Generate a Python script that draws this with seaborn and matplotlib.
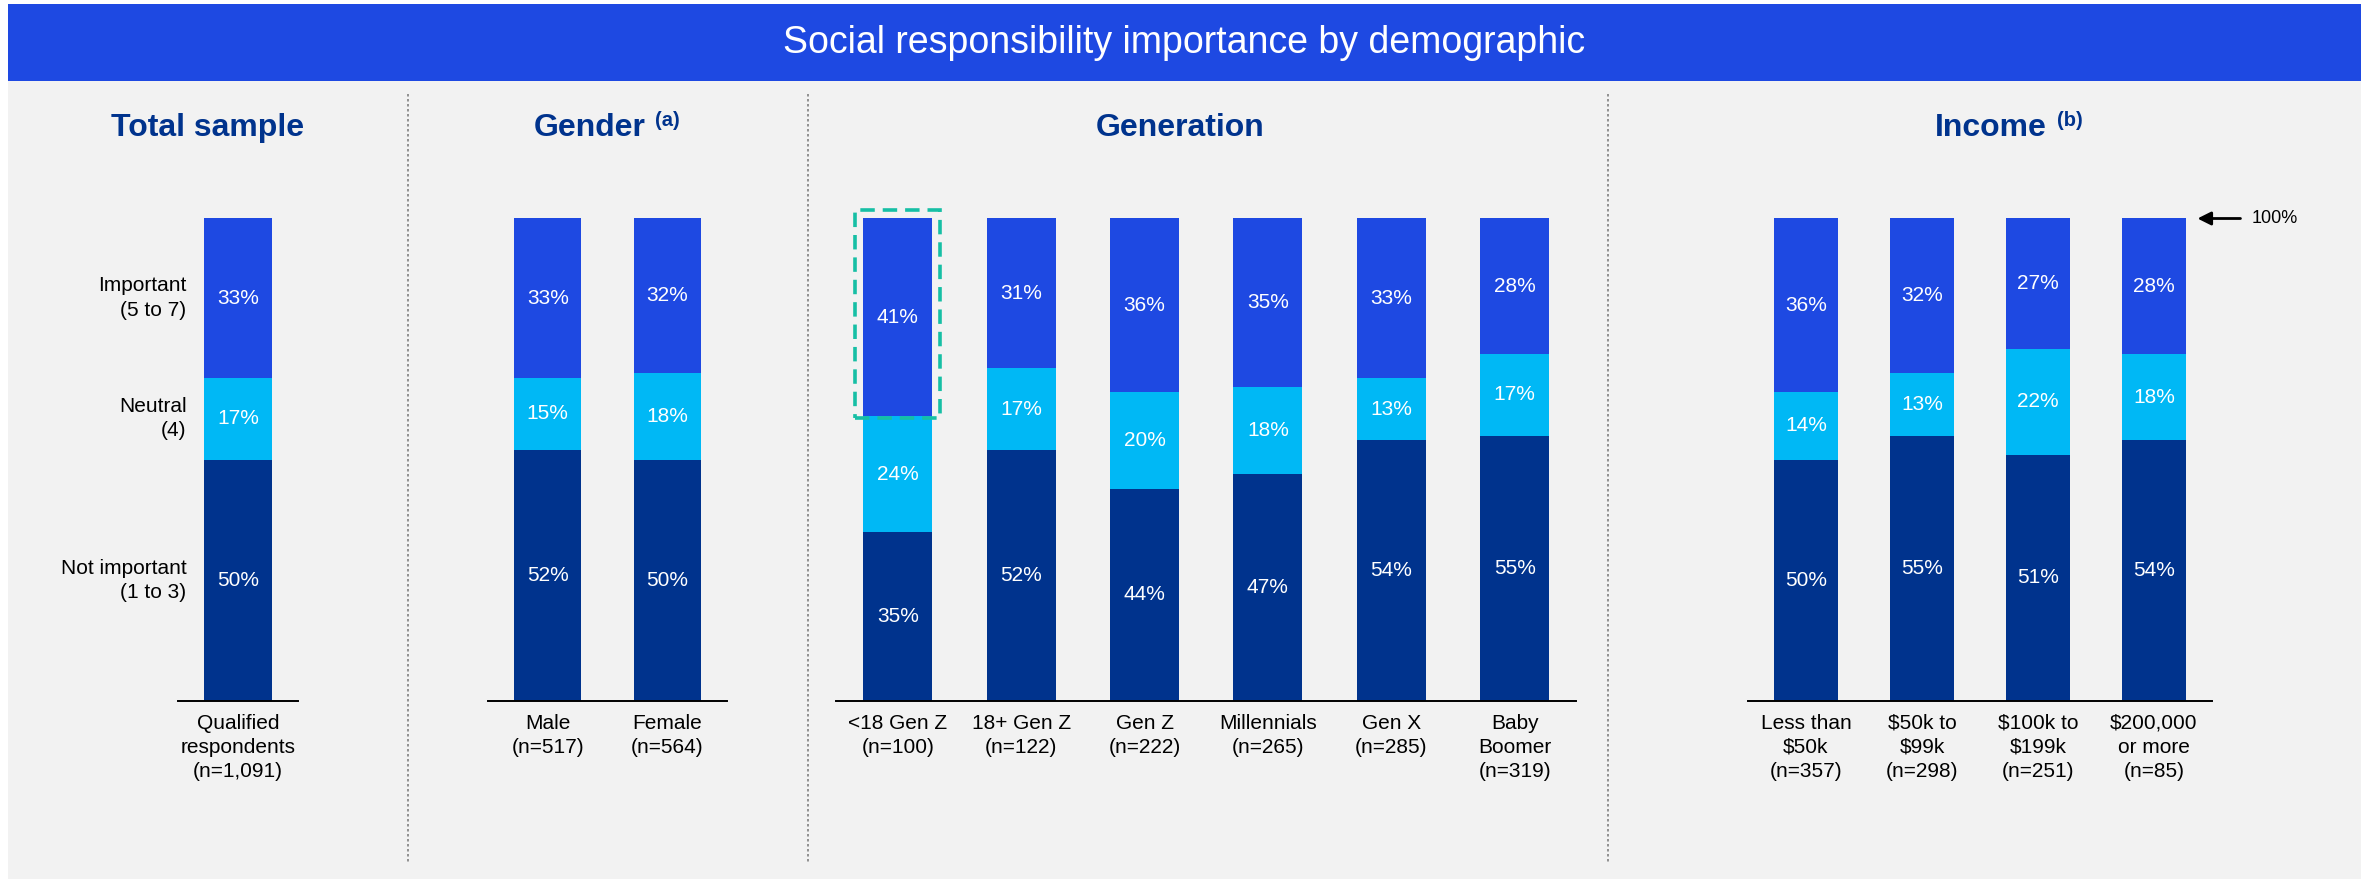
import numpy as np
import pandas as pd
import matplotlib
matplotlib.use("Agg")
import matplotlib.pyplot as plt
from matplotlib.patches import Rectangle
import seaborn as sns

# DATA
total_labels = ["Qualified\nrespondents\n(n=1,091)"]
total_not = [50]
total_neutral = [17]
total_important = [33]

gender_labels = ["Male\n(n=517)", "Female\n(n=564)"]
gender_not = [52, 50]
gender_neutral = [15, 18]
gender_important = [33, 32]

gen_labels = ["<18 Gen Z\n(n=100)", "18+ Gen Z\n(n=122)", "Gen Z\n(n=222)",
              "Millennials\n(n=265)", "Gen X\n(n=285)", "Baby\nBoomer\n(n=319)"]
gen_not = [35, 52, 44, 47, 54, 55]
gen_neutral = [24, 17, 20, 18, 13, 17]
gen_important = [41, 31, 36, 35, 33, 28]

income_labels = ["Less than\n$50k\n(n=357)", "$50k to\n$99k\n(n=298)",
                 "$100k to\n$199k\n(n=251)", "$200,000\nor more\n(n=85)"]
income_not = [50, 55, 51, 54]
income_neutral = [14, 13, 22, 18]
income_important = [36, 32, 27, 28]

segment_names = ["Not important\n(1 to 3)", "Neutral\n(4)", "Important\n(5 to 7)"]

# COLOURS
c_important = "#1E49E2"
c_neutral = "#00B8F5"
c_not = "#00338D"
navy = "#00338D"
teal = "#16BFA5"

sns.set_theme(style="white")
plt.rcParams['font.family'] = ['Liberation Sans', 'DejaVu Sans']
plt.rcParams['text.parse_math'] = False

W, H = 2369, 880
fig = plt.figure(figsize=(W / 100, H / 100), dpi=100)
fig.patch.set_facecolor("white")

# background / header in pixel space
bg = fig.add_axes([0, 0, 1, 1], zorder=0)
bg.set_xlim(0, W)
bg.set_ylim(H, 0)
bg.axis("off")
bg.add_patch(Rectangle((8, 81), 2353, 798, color="#F2F2F2", lw=0))
bg.add_patch(Rectangle((8, 4), 2353, 77, color=c_important, lw=0))
bg.text(1184, 43, "Social responsibility importance by demographic",
        color="white", fontsize=27, ha="center", va="center")
for xd in [408, 808, 1608]:
    bg.plot([xd, xd], [94, 862], color="#808080", lw=1.2, ls=(0, (1.5, 1.5)))

bg.text(208, 136, "Total sample", color=navy, fontsize=23, fontweight="bold",
        ha="center", va="baseline")
bg.text(590, 136, "Gender", color=navy, fontsize=23, fontweight="bold",
        ha="center", va="baseline")
bg.text(655, 111, "(a)", color=navy, fontsize=14.5, fontweight="bold",
        ha="left", va="top")
bg.text(1180, 136, "Generation", color=navy, fontsize=23, fontweight="bold",
        ha="center", va="baseline")
bg.text(1991, 136, "Income", color=navy, fontsize=23, fontweight="bold",
        ha="center", va="baseline")
bg.text(2057, 111, "(b)", color=navy, fontsize=14.5, fontweight="bold",
        ha="left", va="top")

BASE = 701
TOP = 218.5
BAR_W = 0.56


def panel(left, step, labels, low, mid, high):
    n = len(labels)
    ax = fig.add_axes([left / W, 1 - BASE / H, n * step / W, (BASE - TOP) / H], zorder=2)
    ax.patch.set_alpha(0)
    df = pd.DataFrame({"group": labels, "low": low, "mid": mid, "high": high})
    df["lowmid"] = df["low"] + df["mid"]
    df["all"] = df["lowmid"] + df["high"]
    for col, c in [("all", c_important), ("lowmid", c_neutral), ("low", c_not)]:
        sns.barplot(data=df, x="group", y=col, color=c, width=BAR_W, saturation=1,
                    errorbar=None, linewidth=0, ax=ax)
    for i, row in df.iterrows():
        for bottom, h in [(0, row["low"]), (row["low"], row["mid"]), (row["lowmid"], row["high"])]:
            ax.text(i, bottom + h / 2, f"{h}%", color="white", fontsize=15,
                    ha="center", va="center")
    ax.set_xlim(-0.5, n - 0.5)
    ax.set_ylim(0, 100)
    ax.set_xlabel("")
    ax.set_ylabel("")
    ax.set_yticks([])
    for s in ["top", "left", "right"]:
        ax.spines[s].set_visible(False)
    ax.spines["bottom"].set_color("black")
    ax.spines["bottom"].set_linewidth(1.4)
    ax.tick_params(axis="x", length=0, pad=9, labelsize=15, labelcolor="black")
    for lab in ax.get_xticklabels():
        lab.set_linespacing(1.35)
    return ax, df


ax_t, df_t = panel(178, 120, total_labels, total_not, total_neutral, total_important)
ax_g, df_g = panel(488, 119.5, gender_labels, gender_not, gender_neutral, gender_important)
ax_n, df_n = panel(836, 123.4, gen_labels, gen_not, gen_neutral, gen_important)
ax_i, df_i = panel(1748, 116, income_labels, income_not, income_neutral, income_important)

# segment names left of the total bar
mids = [total_not[0] / 2,
        total_not[0] + total_neutral[0] / 2,
        total_not[0] + total_neutral[0] + total_important[0] / 2]
for name, ym in zip(segment_names, mids):
    ax_t.text(-BAR_W / 2 - 18 / 120, ym, name, fontsize=15, color="black",
              ha="right", va="center", linespacing=1.35)

# dashed highlight around <18 Gen Z important segment
pad_x = 8 / 123.4
box = Rectangle((-BAR_W / 2 - pad_x, df_n["lowmid"][0] - 0.4),
                BAR_W + 2 * pad_x, df_n["high"][0] + 0.4 + 1.7,
                fill=False, edgecolor=teal, lw=2.6, ls=(0, (4, 2.2)),
                clip_on=False, zorder=5)
ax_n.add_patch(box)

# 100% marker
x_edge = len(income_labels) - 1 + BAR_W / 2
ax_i.annotate("", xy=(x_edge + 11 / 116, 100), xytext=(x_edge + 54 / 116, 100),
              arrowprops=dict(arrowstyle="-|>", color="black", lw=2,
                              mutation_scale=20, shrinkA=0, shrinkB=0),
              annotation_clip=False)
ax_i.text(x_edge + 65 / 116, 100, "100%", fontsize=13, color="black",
          ha="left", va="center", clip_on=False)

fig.savefig("out.png", dpi=100, facecolor=fig.get_facecolor())
